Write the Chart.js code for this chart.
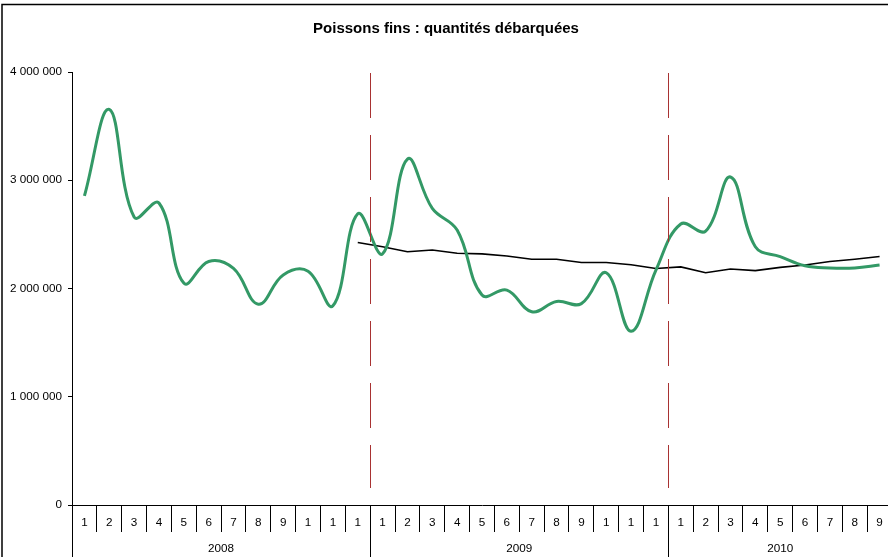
<!DOCTYPE html>
<html><head><meta charset="utf-8">
<script src="https://cdn.jsdelivr.net/npm/chart.js@4"></script>
<style>
html,body{margin:0;padding:0;overflow:hidden;background:#fff;width:888px;height:557px}
#wrap{position:relative;width:900px;height:570px}
</style>
</head><body>
<div id="wrap"><canvas id="c" width="900" height="570"></canvas></div>
<script>
// ---- data ----
const monthLabels = ['1','2','3','4','5','6','7','8','9','1','1','1',
                     '1','2','3','4','5','6','7','8','9','1','1','1',
                     '1','2','3','4','5','6','7','8','9'];
const years = ['2008','2009','2010'];
const yearSpans = [12, 12, 9];
const landed = [2855000, 3655000, 2660000, 2790000, 2050000, 2250000, 2185000, 1855000, 2125000, 2160000, 1840000, 2690000,
                2320000, 3195000, 2740000, 2540000, 1940000, 1985000, 1785000, 1880000, 1860000, 2145000, 1605000, 2170000,
                2596000, 2530000, 3030000, 2385000, 2295000, 2210000, 2190000, 2190000, 2217000];
const trend = [null, null, null, null, null, null, null, null, null, null, null, 2425000,
               2385000, 2340000, 2355000, 2325000, 2320000, 2300000, 2270000, 2270000, 2240000, 2240000, 2220000, 2185000,
               2200000, 2145000, 2180000, 2165000, 2195000, 2217000, 2250000, 2270000, 2295000];
const yMin = 0, yMax = 4000000, yStep = 1000000;
const title = 'Poissons fins : quantités débarquées';

const FONT = 'Arial, "Liberation Sans", sans-serif';
const fmt = v => String(v).replace(/\B(?=(\d{3})+(?!\d))/g, ' ');

const decor = {
  id: 'decor',
  beforeDraw(chart) {
    const ctx = chart.ctx;
    ctx.save();
    ctx.fillStyle = '#fff';
    ctx.fillRect(0, 0, chart.width, chart.height);
    ctx.strokeStyle = '#000';
    ctx.lineWidth = 1.5;
    ctx.strokeRect(2, 4.5, chart.width + 20, chart.height + 20);
    ctx.restore();
  },
  afterDraw(chart) {
    const ctx = chart.ctx, x = chart.scales.x, ca = chart.chartArea;
    const half = (x.getPixelForValue(1) - x.getPixelForValue(0)) / 2;
    ctx.save();
    let start = 0;
    const bounds = [];
    years.forEach((y, i) => {
      const left = x.getPixelForValue(start) - half;
      const right = x.getPixelForValue(start + yearSpans[i] - 1) + half;
      bounds.push(left);
      if (i === years.length - 1) bounds.push(right);
      ctx.fillStyle = '#000';
      ctx.font = '11.7px ' + FONT;
      ctx.textAlign = 'center';
      ctx.textBaseline = 'middle';
      ctx.fillText(y, (left + right) / 2, 549);
      start += yearSpans[i];
    });
    ctx.strokeStyle = '#000';
    ctx.lineWidth = 1;
    bounds.forEach(b => {
      const bx = Math.round(b) + 0.5;
      ctx.beginPath();
      ctx.moveTo(bx, ca.bottom);
      ctx.lineTo(bx, chart.height);
      ctx.stroke();
    });
    ctx.strokeStyle = '#A83232';
    ctx.lineWidth = 1;
    ctx.setLineDash([45, 17]);
    bounds.slice(1, -1).forEach(b => {
      const bx = Math.round(b) + 0.5;
      ctx.beginPath();
      ctx.moveTo(bx, ca.top + 1);
      ctx.lineTo(bx, 488);
      ctx.stroke();
    });
    ctx.restore();
  }
};

new Chart(document.getElementById('c'), {
  type: 'line',
  data: {
    labels: monthLabels,
    datasets: [
      { data: landed, borderColor: '#339966', borderWidth: 3, tension: 0.4, pointRadius: 0, fill: false },
      { data: trend, borderColor: '#000', borderWidth: 1.6, tension: 0, pointRadius: 0, fill: false, spanGaps: false }
    ]
  },
  options: {
    responsive: false,
    animation: false,
    layout: { padding: { left: 0, right: 8, top: 0, bottom: 0 } },
    plugins: {
      legend: { display: false },
      tooltip: { enabled: false },
      title: { display: true, text: title, color: '#000',
               font: { family: FONT, size: 15, weight: 'bold' },
               padding: { top: 20, bottom: 34 } }
    },
    scales: {
      x: {
        type: 'category',
        offset: true,
        grid: { offset: true, drawOnChartArea: false, tickLength: 27, color: '#000', lineWidth: 1 },
        border: { color: '#000', width: 1 },
        ticks: { autoSkip: false, maxRotation: 0, minRotation: 0, padding: -16, color: '#000',
                 font: { family: FONT, size: 11.7 } },
        afterFit: s => { s.height = 65; }
      },
      y: {
        min: yMin, max: yMax,
        ticks: { stepSize: yStep, color: '#000', padding: 6, font: { family: FONT, size: 11.7 },
                 callback: v => fmt(v) },
        grid: { drawOnChartArea: false, tickLength: 4, color: '#000', lineWidth: 1 },
        border: { color: '#000', width: 1 },
        afterFit: s => { s.width = 72; }
      }
    }
  },
  plugins: [decor]
});
</script>
</body></html>
